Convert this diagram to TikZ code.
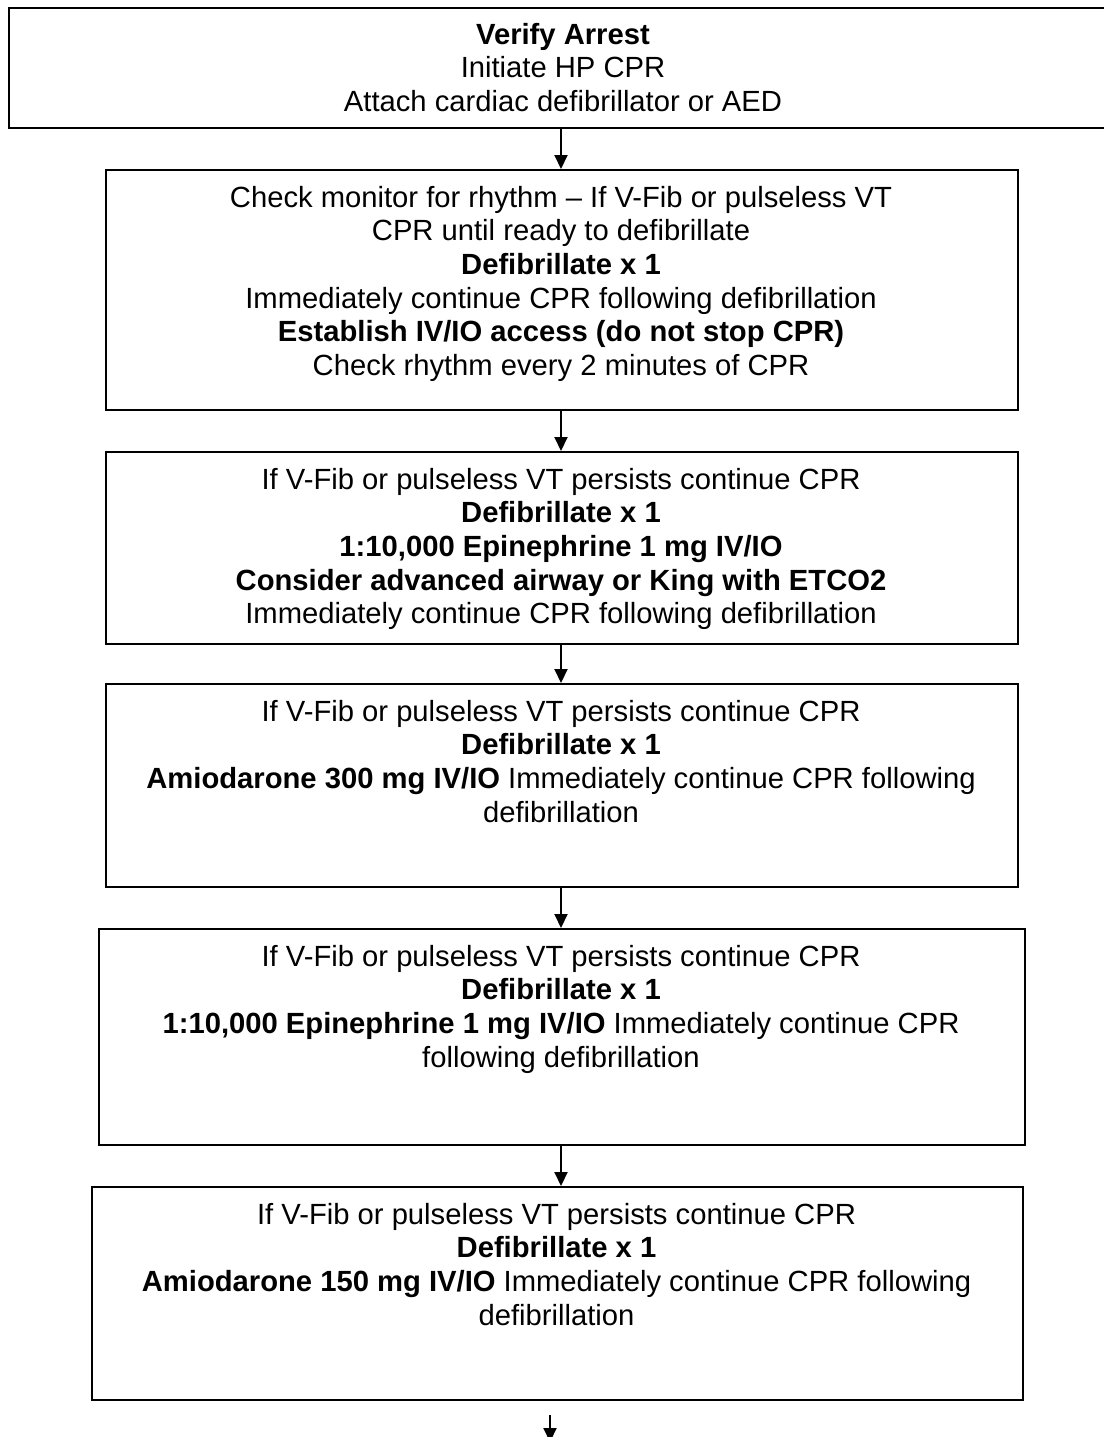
\documentclass[tikz,border=0pt]{standalone}
\usepackage{fontspec}
\setmainfont{Liberation Sans}
\usetikzlibrary{arrows.meta}
\begin{document}
\begin{tikzpicture}[x=1pt,y=-1pt,
  box/.style={draw=black, line width=2pt, inner sep=0pt, anchor=north west},
  txt/.style={align=center, inner sep=0pt, anchor=north, font=\fontsize{29.2}{33.6}\selectfont},
  arr/.style={line width=2pt, -{Triangle[width=13pt,length=14pt]}}]
\useasboundingbox (0,0) rectangle (1103,1437);
\fill[white] (0,0) rectangle (1103,1437);

\node[box, minimum width=1110pt, minimum height=120pt] (b1) at (8,7) {};
\node[txt] (t1) at ([xshift=-1pt,yshift=-16pt]b1.north) {\textbf{Verify Arrest}\\Initiate HP CPR\\Attach cardiac defibrillator or AED};

\node[box, minimum width=912pt, minimum height=240pt] (b2) at (105,169) {};
\node[txt] (t2) at ([xshift=-1pt,yshift=-17pt]b2.north) {Check monitor for rhythm – If V-Fib or pulseless VT\\CPR until ready to defibrillate\\\textbf{Defibrillate x 1}\\Immediately continue CPR following defibrillation\\\textbf{Establish IV/IO access (do not stop CPR)}\\Check rhythm every 2 minutes of CPR};

\node[box, minimum width=912pt, minimum height=192pt] (b3) at (105,451) {};
\node[txt] (t3) at ([xshift=-1pt,yshift=-17pt]b3.north) {If V-Fib or pulseless VT persists continue CPR\\\textbf{Defibrillate x 1}\\\textbf{1:10,000 Epinephrine 1 mg IV/IO}\\\textbf{Consider advanced airway or King with ETCO2}\\Immediately continue CPR following defibrillation};

\node[box, minimum width=912pt, minimum height=203pt] (b4) at (105,683) {};
\node[txt] (t4) at ([xshift=-1pt,yshift=-17pt]b4.north) {If V-Fib or pulseless VT persists continue CPR\\\textbf{Defibrillate x 1}\\\textbf{Amiodarone 300 mg IV/IO} Immediately continue CPR following\\defibrillation};

\node[box, minimum width=926pt, minimum height=216pt] (b5) at (98,928) {};
\node[txt] (t5) at ([xshift=-1pt,yshift=-17pt]b5.north) {If V-Fib or pulseless VT persists continue CPR\\\textbf{Defibrillate x 1}\\\textbf{1:10,000 Epinephrine 1 mg IV/IO} Immediately continue CPR\\following defibrillation};

\node[box, minimum width=931pt, minimum height=213pt] (b6) at (91,1186) {};
\node[txt] (t6) at ([xshift=-1pt,yshift=-17pt]b6.north) {If V-Fib or pulseless VT persists continue CPR\\\textbf{Defibrillate x 1}\\\textbf{Amiodarone 150 mg IV/IO} Immediately continue CPR following\\defibrillation};

\coordinate (ax) at (561,0);
\draw[arr] (b1.south -| ax) -- (b2.north -| ax);
\draw[arr] (b2.south -| ax) -- (b3.north -| ax);
\draw[arr] (b3.south -| ax) -- (b4.north -| ax);
\draw[arr] (b4.south -| ax) -- (b5.north -| ax);
\draw[arr] (b5.south -| ax) -- (b6.north -| ax);

\coordinate (fx) at (550,0);
\coordinate (fb) at (550,1442);
\draw[arr] ([yshift=-14pt]b6.south -| fx) -- (fb);
\end{tikzpicture}
\end{document}
